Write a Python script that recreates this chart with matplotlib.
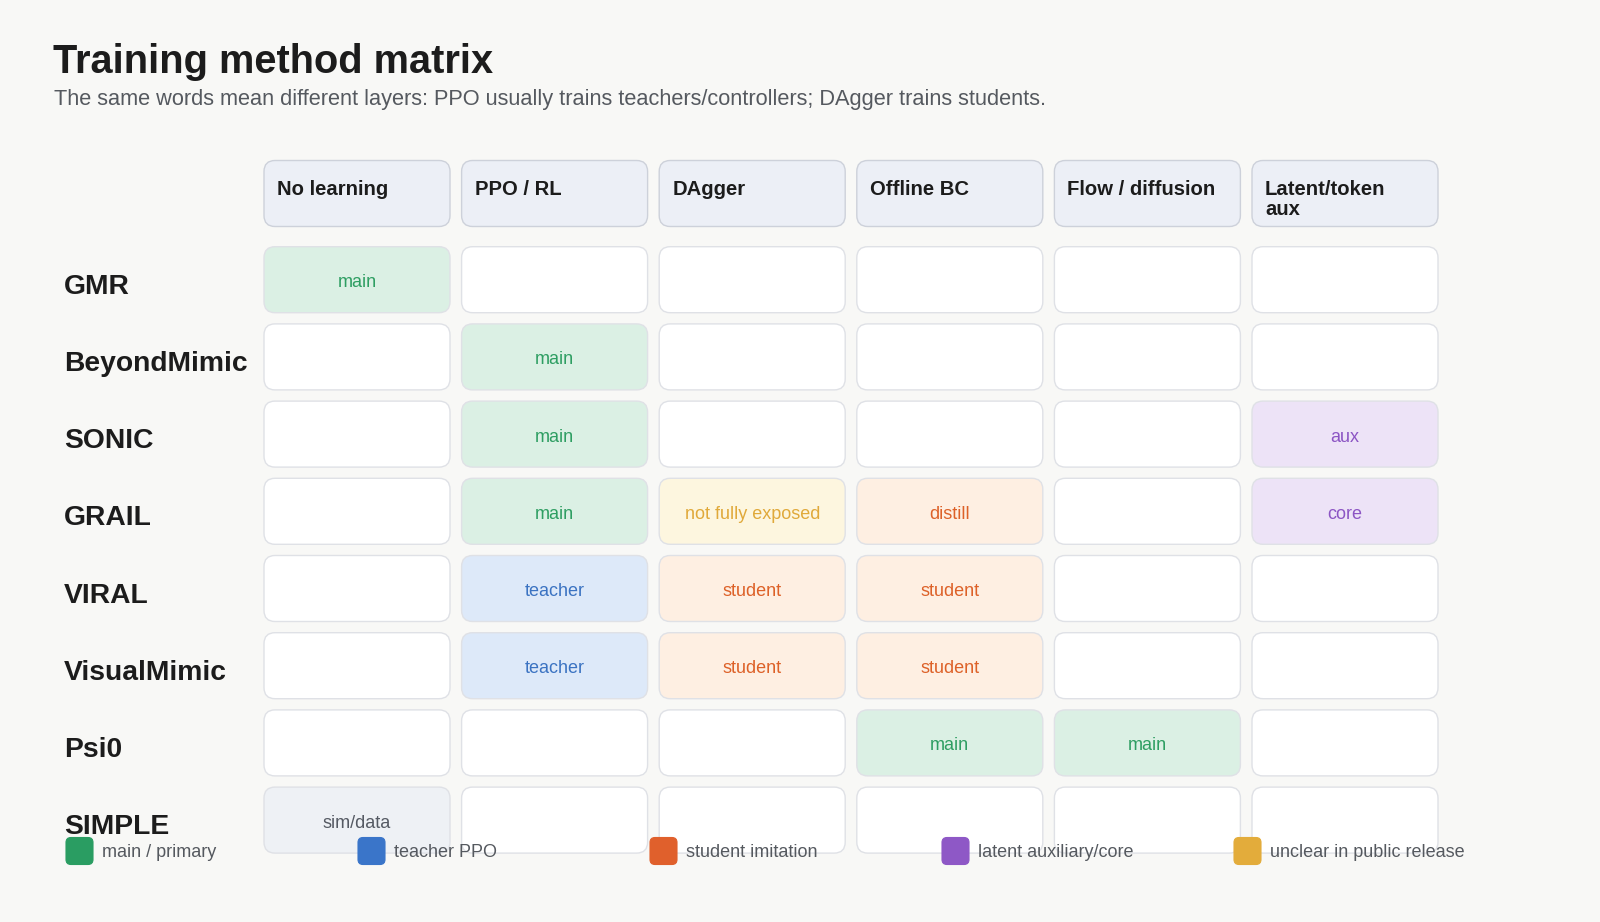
import matplotlib
matplotlib.use('Agg')
from matplotlib import pyplot as plt
from matplotlib.patches import FancyBboxPatch

plt.rcParams['font.family'] = ['Liberation Sans', 'DejaVu Sans']

title = 'Training method matrix'
subtitle = ('The same words mean different layers: PPO usually trains '
            'teachers/controllers; DAgger trains students.')

methods = ['GMR', 'BeyondMimic', 'SONIC', 'GRAIL', 'VIRAL', 'VisualMimic', 'Psi0', 'SIMPLE']
columns = ['No learning', 'PPO / RL', 'DAgger', 'Offline BC', 'Flow / diffusion', 'Latent/token\naux']

# one list per method, '' = empty cell
gmr = ['main', '', '', '', '', '']
beyondmimic = ['', 'main', '', '', '', '']
sonic = ['', 'main', '', '', '', 'aux']
grail = ['', 'main', 'not fully exposed', 'distill', '', 'core']
viral = ['', 'teacher', 'student', 'student', '', '']
visualmimic = ['', 'teacher', 'student', 'student', '', '']
psi0 = ['', '', '', 'main', 'main', '']
simple = ['sim/data', '', '', '', '', '']
cells = [gmr, beyondmimic, sonic, grail, viral, visualmimic, psi0, simple]

legend_labels = ['main / primary', 'teacher PPO', 'student imitation',
                 'latent auxiliary/core', 'unclear in public release']
legend_colors = ['#2a9d62', '#3a75c9', '#e0602c', '#8e58c6', '#e3ac3b']

# fill, text colour per cell word
styles = {
    'main': ('#dbf0e4', '#2e9e62'),
    'teacher': ('#dde9f9', '#3b73c2'),
    'student': ('#feefe2', '#dd6128'),
    'distill': ('#feefe2', '#dd6128'),
    'aux': ('#ede3f7', '#8c55c4'),
    'core': ('#ede3f7', '#8c55c4'),
    'not fully exposed': ('#fdf6df', '#e0a93a'),
    'sim/data': ('#eef1f5', '#555a63'),
    '': ('#ffffff', '#333333'),
}

W, H = 1600, 922
bg = '#f8f8f6'
fig = plt.figure(figsize=(16, 9.22), dpi=100, facecolor=bg)
ax = fig.add_axes([0, 0, 1, 1])
ax.set_xlim(0, W)
ax.set_ylim(H, 0)
ax.axis('off')

# grid layout (pixels)
x0, col_pitch, cw = 264, 197.6, 186
head_top, row_top, row_pitch, ch = 160.5, 246.7, 77.2, 66


def box(x, y, fc, ec):
    ax.add_patch(FancyBboxPatch((x, y), cw, ch,
                                boxstyle='round,pad=0,rounding_size=11',
                                fc=fc, ec=ec, lw=1.0))


ax.text(53, 73, title, fontsize=28.6, fontweight='bold', color='#1c1c1c', va='baseline')
ax.text(54, 105, subtitle, fontsize=15.7, color='#55595f', va='baseline')

for j, name in enumerate(columns):
    x = x0 + j * col_pitch
    box(x, head_top, '#eceff6', '#cdd1da')
    for n, line in enumerate(name.split('\n')):
        ax.text(x + 13, head_top + 34.5 + n * 20, line, fontsize=14.6, fontweight='bold',
                color='#1c1c1c', va='baseline')

for i, m in enumerate(methods):
    y = row_top + i * row_pitch
    ax.text(64, y + 47, m, fontsize=20.3, fontweight='bold', color='#1c1c1c', va='baseline')
    for j, word in enumerate(cells[i]):
        x = x0 + j * col_pitch
        fc, tc = styles[word]
        box(x, y, fc, '#dfe1e6')
        if word:
            ax.text(x + cw / 2, y + 40.5, word, fontsize=13, color=tc,
                    ha='center', va='baseline')

# legend
for k, (lab, col) in enumerate(zip(legend_labels, legend_colors)):
    lx = 66 + k * 292
    ax.add_patch(FancyBboxPatch((lx, 837.5), 27, 27,
                                boxstyle='round,pad=0,rounding_size=5',
                                fc=col, ec=col, lw=0.8, zorder=5))
    ax.text(lx + 36, 856.5, lab, fontsize=13, color='#55595f', va='baseline', zorder=5)

fig.savefig('out.png', dpi=100, facecolor=bg)
